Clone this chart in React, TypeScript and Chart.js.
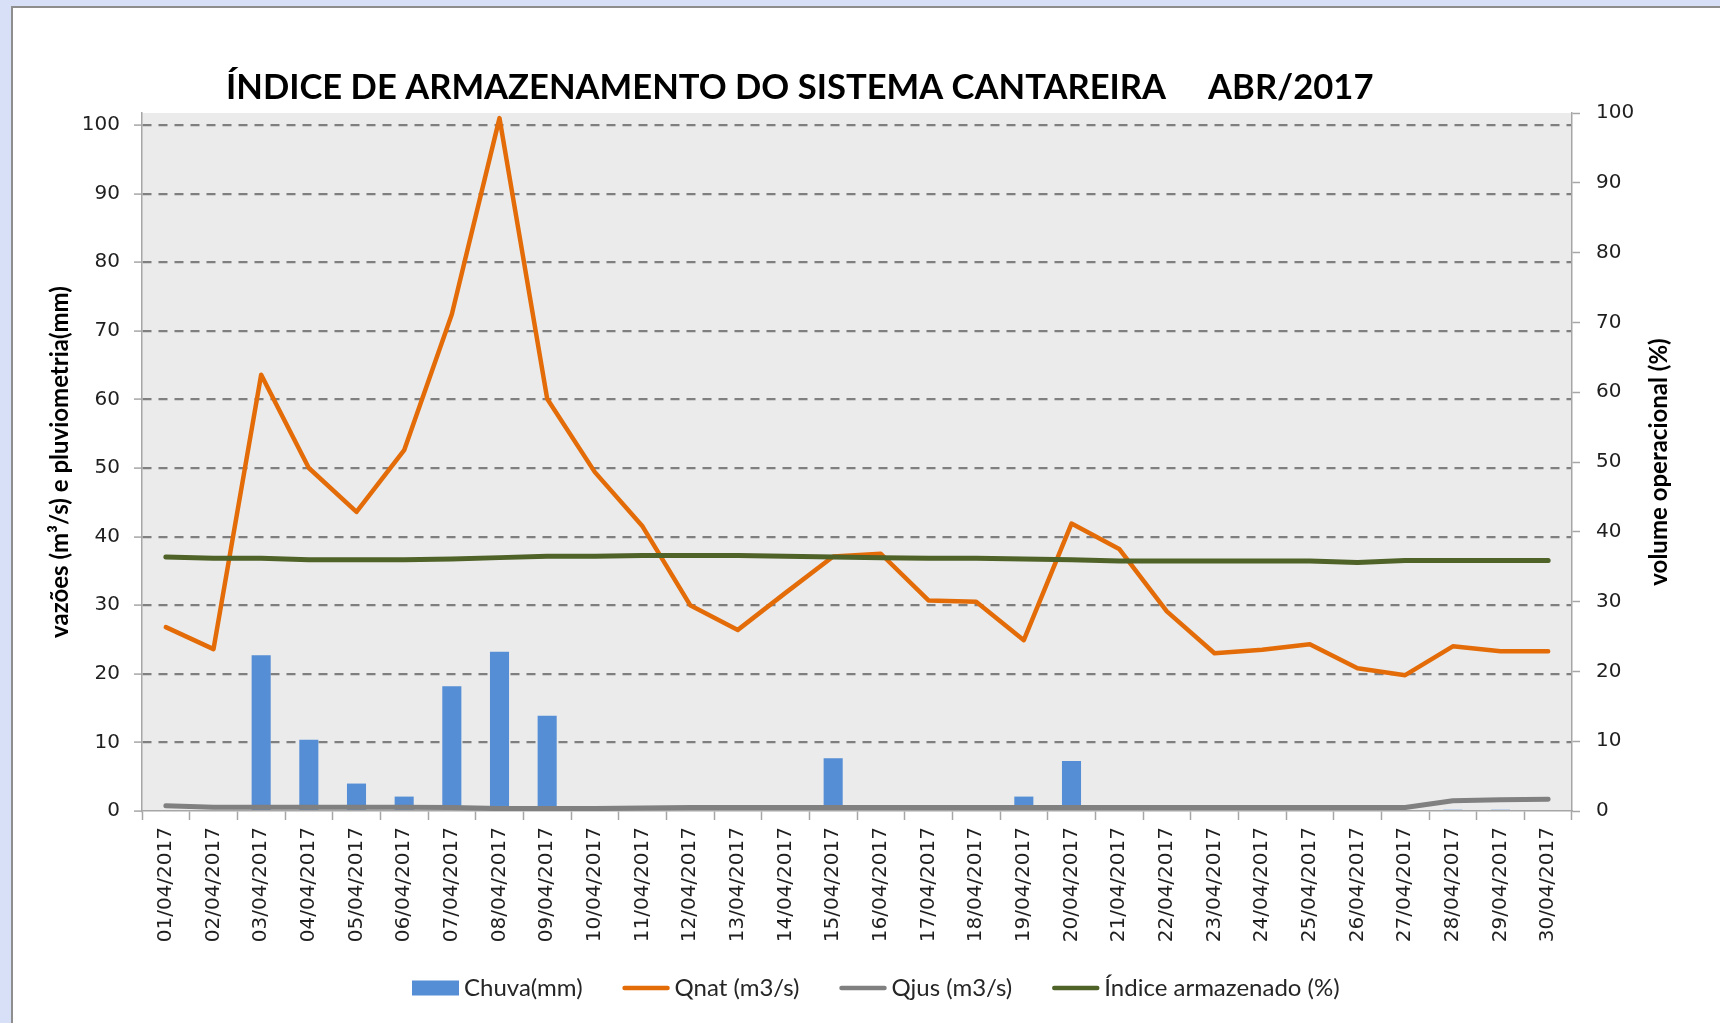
import React, { useEffect, useRef } from "react";
import { Chart, registerables } from "chart.js";

Chart.register(...registerables);

const categories = [
  "01/04/2017", "02/04/2017", "03/04/2017", "04/04/2017", "05/04/2017", "06/04/2017",
  "07/04/2017", "08/04/2017", "09/04/2017", "10/04/2017", "11/04/2017", "12/04/2017",
  "13/04/2017", "14/04/2017", "15/04/2017", "16/04/2017", "17/04/2017", "18/04/2017",
  "19/04/2017", "20/04/2017", "21/04/2017", "22/04/2017", "23/04/2017", "24/04/2017",
  "25/04/2017", "26/04/2017", "27/04/2017", "28/04/2017", "29/04/2017", "30/04/2017",
];

const chuva = [
  0, 0, 22.7, 10.4, 4.0, 2.1, 18.2, 23.2, 13.9, 0,
  0.3, 0, 0, 0.2, 7.7, 0, 0, 0.3, 2.1, 7.3,
  0, 0, 0, 0, 0, 0, 0, 0.2, 0.2, 0,
];

const qnat = [
  26.8, 23.6, 63.6, 50.0, 43.6, 52.6, 72.4, 101.0, 60.1, 49.4,
  41.5, 30.0, 26.4, 31.8, 37.1, 37.5, 30.7, 30.5, 24.9, 41.9,
  38.2, 29.1, 23.0, 23.5, 24.3, 20.8, 19.8, 24.0, 23.3, 23.3,
];

const qjus = [
  0.75, 0.55, 0.55, 0.55, 0.55, 0.55, 0.5, 0.35, 0.35, 0.35,
  0.45, 0.5, 0.5, 0.5, 0.5, 0.5, 0.5, 0.5, 0.5, 0.5,
  0.5, 0.5, 0.5, 0.5, 0.5, 0.5, 0.5, 1.5, 1.65, 1.7,
];

const indice = [
  36.4, 36.2, 36.2, 36.0, 36.0, 36.0, 36.1, 36.3, 36.5, 36.5,
  36.6, 36.6, 36.6, 36.5, 36.4, 36.3, 36.2, 36.2, 36.1, 36.0,
  35.8, 35.8, 35.8, 35.8, 35.8, 35.6, 35.9, 35.9, 35.9, 35.9,
];

const leftTicks = [0, 10, 20, 30, 40, 50, 60, 70, 80, 90, 100];
const rightTicks = [0, 10, 20, 30, 40, 50, 60, 70, 80, 90, 100];
const leftMax = 101.75;
const rightMax = 100;

const titleText = "ÍNDICE DE ARMAZENAMENTO DO SISTEMA CANTAREIRA     ABR/2017";
const leftAxisTitle = "vazões (m³/s) e pluviometria(mm)";
const rightAxisTitle = "volume operacional (%)";

const AXIS_COLOR = "#A6A6A6";
const GRID_COLOR = "#7F7F7F";
const TICK_TEXT = "#1F1F1F";

const plotBgPlugin = {
  id: "plotBg",
  beforeDraw(chart: any) {
    const { ctx, chartArea } = chart;
    ctx.save();
    ctx.fillStyle = "#EBEBEB";
    ctx.fillRect(chartArea.left, chartArea.top, chartArea.right - chartArea.left, chartArea.bottom - chartArea.top);
    ctx.restore();
  },
};

const textPlugin = {
  id: "texts",
  afterDraw(chart: any) {
    const { ctx, chartArea } = chart;
    const midY = (chartArea.top + chartArea.bottom) / 2;
    ctx.save();
    // title
    ctx.fillStyle = "#000000";
    ctx.font = "bold 34.6px Lato";
    ctx.textAlign = "left";
    ctx.textBaseline = "alphabetic";
    ctx.fillText(titleText, 226, 99);

    // axis titles
    ctx.font = "bold 24px Lato";
    ctx.textAlign = "center";
    ctx.textBaseline = "middle";
    ctx.save();
    ctx.translate(chartArea.left - 82, midY);
    ctx.rotate(-Math.PI / 2);
    ctx.fillText(leftAxisTitle, 0, 0);
    ctx.restore();
    ctx.save();
    ctx.translate(chartArea.right + 87, midY);
    ctx.rotate(-Math.PI / 2);
    ctx.fillText(rightAxisTitle, 0, 0);
    ctx.restore();

    // legend
    ctx.font = "24px Lato";
    ctx.textAlign = "left";
    ctx.textBaseline = "middle";
    let x = 412;
    const y = 988;
    chart.data.datasets.forEach((ds: any) => {
      const color = ds.type === "bar" ? ds.backgroundColor : ds.borderColor;
      if (ds.type === "bar") {
        ctx.fillStyle = color;
        ctx.fillRect(x, y - 7.5, 47, 15);
      } else {
        ctx.strokeStyle = color;
        ctx.lineWidth = 4.5;
        ctx.lineCap = "round";
        ctx.beginPath();
        ctx.moveTo(x + 2, y);
        ctx.lineTo(x + 45, y);
        ctx.stroke();
      }
      ctx.fillStyle = "#262626";
      ctx.fillText(ds.label, x + 52, y);
      x += 52 + ctx.measureText(ds.label).width + 40;
    });
    ctx.restore();
  },
};

export default function App() {
  const canvasRef = useRef<HTMLCanvasElement | null>(null);

  useEffect(() => {
    if (!canvasRef.current) return;
    const chart = new Chart(canvasRef.current, {
      type: "bar",
      data: {
        labels: categories,
        datasets: [
          {
            type: "bar",
            label: "Chuva(mm)",
            data: chuva,
            backgroundColor: "#558ED5",
            borderWidth: 0,
            barPercentage: 0.4,
            categoryPercentage: 1,
            yAxisID: "y",
            order: 4,
          },
          {
            type: "line",
            label: "Qnat (m3/s)",
            data: qnat,
            borderColor: "#E36C09",
            backgroundColor: "#E36C09",
            borderWidth: 4.5,
            pointRadius: 0,
            tension: 0,
            borderJoinStyle: "round",
            borderCapStyle: "round",
            yAxisID: "y",
            order: 3,
          },
          {
            type: "line",
            label: "Qjus (m3/s)",
            data: qjus,
            borderColor: "#808080",
            backgroundColor: "#808080",
            borderWidth: 5,
            pointRadius: 0,
            tension: 0,
            borderJoinStyle: "round",
            borderCapStyle: "round",
            yAxisID: "y",
            order: 2,
          },
          {
            type: "line",
            label: "Índice armazenado (%)",
            data: indice,
            borderColor: "#4F6228",
            backgroundColor: "#4F6228",
            borderWidth: 5,
            pointRadius: 0,
            tension: 0,
            borderJoinStyle: "round",
            borderCapStyle: "round",
            yAxisID: "y1",
            order: 1,
          },
        ] as any,
      },
      options: {
        responsive: false,
        animation: false,
        layout: { padding: { left: 0, right: 0, top: 113, bottom: 0 } },
        plugins: {
          legend: { display: false },
          title: { display: false },
          tooltip: { enabled: false },
        },
        scales: {
          x: {
            type: "category",
            offset: true,
            grid: {
              display: true,
              drawOnChartArea: false,
              offset: true,
              tickLength: 9,
              tickColor: AXIS_COLOR,
              tickWidth: 1.5,
            },
            border: { display: true, color: AXIS_COLOR, width: 1.5 },
            ticks: {
              autoSkip: false,
              maxRotation: 90,
              minRotation: 90,
              padding: 7,
              color: TICK_TEXT,
              font: { family: "DejaVu Sans", size: 20 },
            },
            afterFit: (s: any) => {
              s.height = 212;
            },
          },
          y: {
            position: "left",
            min: 0,
            max: leftMax,
            afterBuildTicks: (s: any) => {
              s.ticks = leftTicks.map((v) => ({ value: v }));
            },
            grid: {
              display: true,
              drawOnChartArea: true,
              color: (c: any) => (c.tick && c.tick.value === 0 ? "rgba(0,0,0,0)" : GRID_COLOR),
              lineWidth: 2.2,
              tickLength: 8,
              tickColor: AXIS_COLOR,
              tickWidth: 1.5,
            },
            border: { display: true, color: AXIS_COLOR, width: 1.5, dash: [9, 7] },
            ticks: {
              padding: 14,
              color: TICK_TEXT,
              font: { family: "DejaVu Sans", size: 20 },
            },
            afterFit: (s: any) => {
              s.width = 142;
            },
          },
          y1: {
            position: "right",
            min: 0,
            max: rightMax,
            afterBuildTicks: (s: any) => {
              s.ticks = rightTicks.map((v) => ({ value: v }));
            },
            grid: {
              display: true,
              drawOnChartArea: false,
              tickLength: 8,
              tickColor: AXIS_COLOR,
              tickWidth: 1.5,
            },
            border: { display: true, color: AXIS_COLOR, width: 1.5 },
            ticks: {
              padding: 16,
              color: TICK_TEXT,
              font: { family: "DejaVu Sans", size: 20 },
            },
            afterFit: (s: any) => {
              s.width = 148;
            },
          },
        },
      } as any,
      plugins: [plotBgPlugin, textPlugin],
    });
    return () => {
      chart.destroy();
    };
  }, []);

  return (
    <div
      style={{
        position: "fixed",
        left: 0,
        top: 0,
        width: 1720,
        height: 1023,
        overflow: "hidden",
        background: "#D8E0F7",
      }}
    >
      <div
        style={{
          position: "absolute",
          left: 11,
          top: 6,
          width: 1760,
          height: 1100,
          background: "#FFFFFF",
          border: "2px solid #8E8E8E",
        }}
      />
      <canvas
        ref={canvasRef}
        width={1720}
        height={1023}
        style={{ position: "absolute", left: 0, top: 0, width: 1720, height: 1023 }}
      />
    </div>
  );
}
